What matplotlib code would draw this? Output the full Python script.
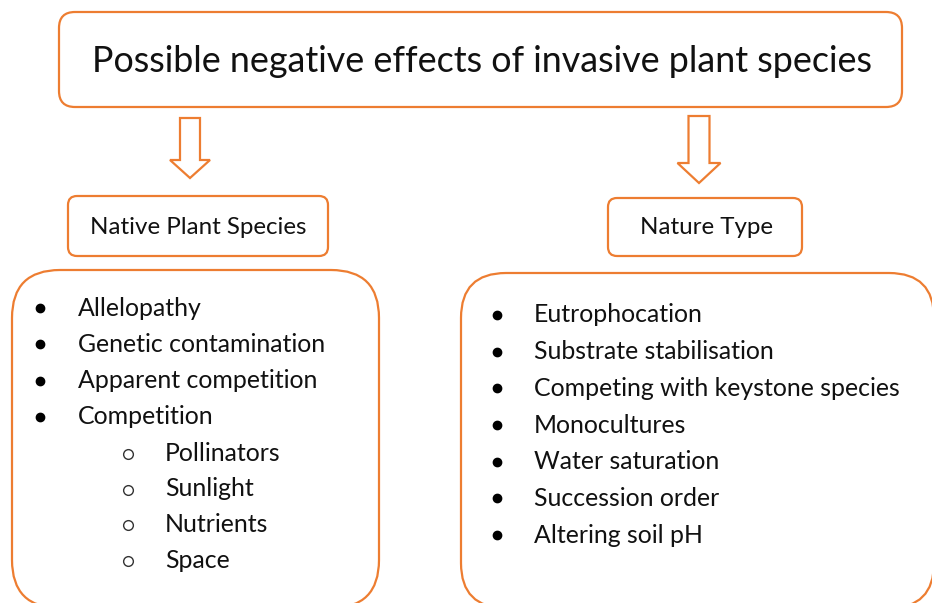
import matplotlib.pyplot as plt
from matplotlib.patches import FancyBboxPatch, Polygon

title = 'Possible negative effects of invasive plant species'
left_header = 'Native Plant Species'
right_header = 'Nature Type'
left_items = ['Allelopathy', 'Genetic contamination', 'Apparent competition', 'Competition']
left_subitems = ['Pollinators', 'Sunlight', 'Nutrients', 'Space']
right_items = ['Eutrophocation', 'Substrate stabilisation', 'Competing with keystone species',
               'Monocultures', 'Water saturation', 'Succession order', 'Altering soil pH']

ORANGE = '#ED7D31'
FONT = 'Lato'


def rbox(ax, x0, y0, x1, y1, r):
    box = FancyBboxPatch((x0, y0), x1 - x0, y1 - y0,
                         boxstyle='round,pad=0,rounding_size=%d' % r,
                         facecolor='white', edgecolor=ORANGE, linewidth=1.6)
    ax.add_patch(box)


def down_arrow(ax, cx, top, neck, tip, shaft_w, head_w):
    pts = [(cx - shaft_w / 2, top), (cx + shaft_w / 2, top), (cx + shaft_w / 2, neck),
           (cx + head_w / 2, neck), (cx, tip), (cx - head_w / 2, neck), (cx - shaft_w / 2, neck)]
    ax.add_patch(Polygon(pts, closed=True, facecolor='white', edgecolor=ORANGE, linewidth=1.6))


fig = plt.figure(figsize=(9.32, 6.03), dpi=100)
ax = fig.add_axes([0, 0, 1, 1])
ax.set_xlim(0, 932)
ax.set_ylim(603, 0)
ax.axis('off')

# top box
rbox(ax, 59, 12, 902, 107, 16)
ax.text(482, 61, title, ha='center', va='center', fontsize=25.8, family=FONT, color='#111111')

# arrows
down_arrow(ax, 190, 118, 160, 178, 20, 40)
down_arrow(ax, 699, 116, 163, 183, 21, 43)

# header boxes
rbox(ax, 68, 196, 328, 256, 9)
ax.text(198, 227, left_header, ha='center', va='center', fontsize=17.4, family=FONT, color='#111111')
rbox(ax, 608, 198, 802, 256, 9)
ax.text(706, 228, right_header, ha='center', va='center', fontsize=17.4, family=FONT, color='#111111')

# list boxes (cut off at figure edges like the original)
rbox(ax, 12, 270, 379, 608, 48)
rbox(ax, 461, 273, 934, 608, 45)

fs = 17.9
y = 308
for item in left_items:
    ax.plot(40, y, 'o', color='black', markersize=6)
    ax.text(78, y, item, va='center', fontsize=fs, family=FONT, color='#111111')
    y += 36.3
for item in left_subitems:
    ax.plot(128, y + 1, 'o', markerfacecolor='white', markeredgecolor='#333333',
            markersize=7, markeredgewidth=1)
    ax.text(165, y, item, va='center', fontsize=fs, family=FONT, color='#111111')
    y += 35.6

y = 315
for item in right_items:
    ax.plot(497, y, 'o', color='black', markersize=6)
    ax.text(534, y, item, va='center', fontsize=fs, family=FONT, color='#111111')
    y += 36.7

fig.savefig('out.png', dpi=100)
